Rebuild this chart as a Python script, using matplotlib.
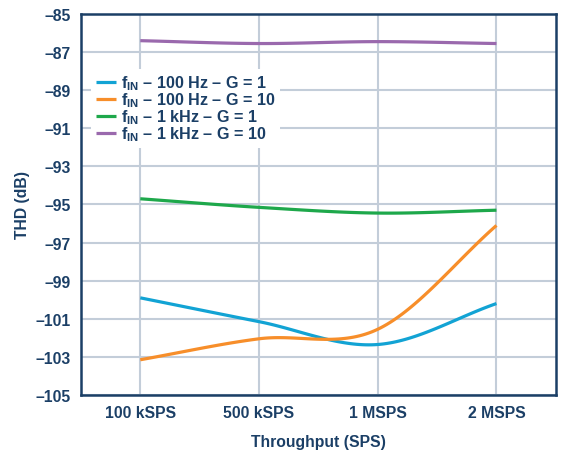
import numpy as np
import matplotlib
matplotlib.use('Agg')
import matplotlib.pyplot as plt

plt.rcParams['font.family'] = ['Liberation Sans', 'DejaVu Sans']
plt.rcParams['font.weight'] = 'bold'
plt.rcParams['mathtext.fontset'] = 'custom'
plt.rcParams['mathtext.rm'] = 'Liberation Sans:bold'
plt.rcParams['mathtext.it'] = 'Liberation Sans:bold'
plt.rcParams['mathtext.bf'] = 'Liberation Sans:bold'

throughput = ['100 kSPS', '500 kSPS', '1 MSPS', '2 MSPS']
thd_100hz_g1 = [-99.9, -101.15, -102.35, -100.2]
thd_100hz_g10 = [-103.15, -102.05, -101.55, -96.1]
thd_1khz_g1 = [-94.7, -95.15, -95.45, -95.3]
thd_1khz_g10 = [-86.4, -86.55, -86.45, -86.55]

series = [
    (thd_100hz_g1, '#12a3d4', r'$\mathregular{f_{IN}}$ – 100 Hz – G = 1'),
    (thd_100hz_g10, '#f78e2a', r'$\mathregular{f_{IN}}$ – 100 Hz – G = 10'),
    (thd_1khz_g1, '#1ea84b', r'$\mathregular{f_{IN}}$ – 1 kHz – G = 1'),
    (thd_1khz_g10, '#9a69ad', r'$\mathregular{f_{IN}}$ – 1 kHz – G = 10'),
]

navy = '#1b3f66'
grid = '#c3cdd9'


def smooth(xs, ys, n=40):
    # Catmull-Rom curve through the points, like a spreadsheet's smoothed line
    xs = np.asarray(xs, float)
    ys = np.asarray(ys, float)
    px = np.concatenate([[2 * xs[0] - xs[1]], xs, [2 * xs[-1] - xs[-2]]])
    py = np.concatenate([[2 * ys[0] - ys[1]], ys, [2 * ys[-1] - ys[-2]]])
    outx, outy = [], []
    t = np.linspace(0, 1, n)
    for i in range(1, len(px) - 2):
        for p, out in ((px, outx), (py, outy)):
            p0, p1, p2, p3 = p[i - 1], p[i], p[i + 1], p[i + 2]
            b1 = p1 + (p2 - p0) / 6
            b2 = p2 - (p3 - p1) / 6
            out.extend((1 - t) ** 3 * p1 + 3 * (1 - t) ** 2 * t * b1
                       + 3 * (1 - t) * t ** 2 * b2 + t ** 3 * p2)
    return np.array(outx), np.array(outy)


fig = plt.figure(figsize=(5.62, 4.56), dpi=100)
ax = fig.add_axes([0.144, 0.1316, 0.845, 0.8355])

x = np.arange(len(throughput))
for vals, color, label in series:
    sx, sy = smooth(x, vals)
    ax.plot(sx, sy, color=color, lw=2.3, label=label, solid_capstyle='butt')

ax.set_xlim(-0.5, 3.5)
ax.set_ylim(-105, -85)
ax.set_xticks(x)
ax.set_xticklabels(throughput)
ax.set_yticks(np.arange(-105, -84, 2))
ax.set_yticklabels(['–%d' % abs(v) for v in range(-105, -84, 2)])
ax.tick_params(length=0, colors=navy, labelsize=11.3, pad=7)
ax.tick_params(axis='x', pad=7)
ax.grid(True, color=grid, lw=1.5)
ax.set_axisbelow(True)
for s in ax.spines.values():
    s.set_color(navy)
    s.set_linewidth(1.8)

ax.set_xlabel('Throughput (SPS)', color=navy, fontsize=11.3, fontweight='bold', labelpad=10)
ax.set_ylabel('THD (dB)', color=navy, fontsize=11.3, fontweight='bold', labelpad=4)

leg = ax.legend(loc='upper left', bbox_to_anchor=(0.004, 0.878), fontsize=11.6,
                frameon=True, facecolor='white', edgecolor='none', framealpha=1,
                handlelength=1.25, handletextpad=0.3, labelspacing=-0.1,
                borderpad=0.3, fancybox=False)
for t in leg.get_texts():
    t.set_color(navy)

fig.savefig('out.png', dpi=100)
